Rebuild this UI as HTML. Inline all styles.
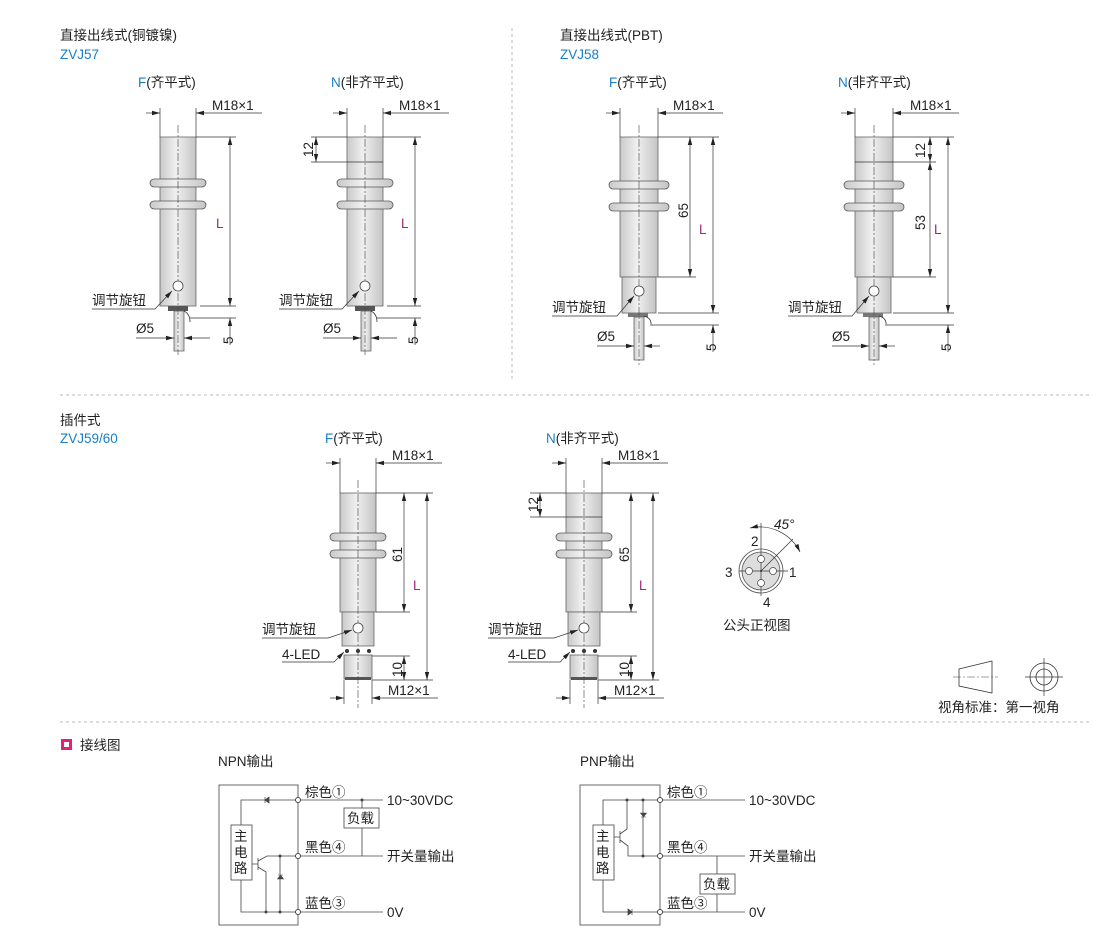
<!DOCTYPE html>
<html><head><meta charset="utf-8"><style>
html,body{margin:0;padding:0;background:#fff}
svg{display:block}
text{font-family:"Liberation Sans","Noto Sans CJK SC",sans-serif;fill:#222;font-size:13.5px}
.b{fill:#1a7ec8}.p{fill:#9b2a7a}
.s{stroke:#333;stroke-width:0.8;fill:none}
.c{stroke:#444;stroke-width:0.6;stroke-dasharray:8 2 2 2;fill:none}
.body{fill:url(#g);stroke:#666;stroke-width:0.8}
.ring{fill:url(#g);stroke:#555;stroke-width:0.8}
.dim{stroke:#333;stroke-width:0.7;fill:none}
.da{stroke:#333;stroke-width:0.7;fill:none;marker-end:url(#ar)}
.dd{stroke:#333;stroke-width:0.7;fill:none;marker-start:url(#ar);marker-end:url(#ar)}
.w{stroke:#444;stroke-width:0.8;fill:none}
.sep{stroke:#bbb;stroke-width:1;stroke-dasharray:3 3}
</style></head><body>
<svg width="1110" height="928" viewBox="0 0 1110 928" xmlns="http://www.w3.org/2000/svg">
<defs>
<linearGradient id="g" x1="0" x2="1" y1="0" y2="0"><stop offset="0" stop-color="#c9c9c9"/><stop offset="0.45" stop-color="#f0f0f0"/><stop offset="1" stop-color="#c4c4c4"/></linearGradient>
<marker id="ar" markerWidth="8" markerHeight="6" refX="8" refY="3" orient="auto-start-reverse" markerUnits="userSpaceOnUse"><path d="M0,0.8 L8,3 L0,5.2z" fill="#222"/></marker>
</defs>

<line class="sep" x1="512" y1="28" x2="512" y2="382"/>
<line class="sep" x1="60" y1="395" x2="1090" y2="395"/>
<line class="sep" x1="60" y1="722" x2="1090" y2="722"/>

<text x="60" y="40">直接出线式(铜镀镍)</text>
<text x="60" y="59" class="b">ZVJ57</text>
<text x="560" y="40">直接出线式(PBT)</text>
<text x="560" y="59" class="b">ZVJ58</text>
<text x="60" y="425">插件式</text>
<text x="60" y="443" class="b">ZVJ59/60</text>

<text x="138" y="87"><tspan class="b">F</tspan>(齐平式)</text>
<text x="331" y="87"><tspan class="b">N</tspan>(非齐平式)</text>
<text x="609" y="87"><tspan class="b">F</tspan>(齐平式)</text>
<text x="838" y="87"><tspan class="b">N</tspan>(非齐平式)</text>
<text x="325" y="443"><tspan class="b">F</tspan>(齐平式)</text>
<text x="546" y="443"><tspan class="b">N</tspan>(非齐平式)</text>

<!-- Sensor 1 -->
<g>
<rect class="body" x="160" y="137" width="36" height="169"/>
<rect class="ring" x="150" y="179" width="56" height="8" rx="4"/>
<rect class="ring" x="150" y="201" width="56" height="8" rx="4"/>
<rect x="168" y="306" width="20" height="5" fill="#555"/>
<rect class="body" x="174" y="311" width="10" height="40"/>
<path class="s" d="M184,311 Q190,314 190,322"/>
<line class="c" x1="178" y1="125" x2="178" y2="355"/>
<circle cx="178" cy="286" r="5" fill="#fff" stroke="#444" stroke-width="0.8"/>
<path class="dim" d="M92,309 H155 L172,291" marker-end="url(#ar)"/>
<text x="92" y="305">调节旋钮</text>
<line class="dim" x1="160" y1="108" x2="160" y2="137"/><line class="dim" x1="196" y1="108" x2="196" y2="137"/>
<line class="da" x1="146" y1="113" x2="160" y2="113"/><line class="da" x1="262" y1="113" x2="196" y2="113"/>
<text x="212" y="110">M18×1</text>
<line class="dim" x1="196" y1="137" x2="236" y2="137"/><line class="dim" x1="200" y1="306" x2="236" y2="306"/><line class="dim" x1="190" y1="318" x2="236" y2="318"/>
<line class="dd" x1="230" y1="137" x2="230" y2="306"/>
<line class="da" x1="230" y1="345" x2="230" y2="318"/>
<text class="p" x="216" y="228">L</text>
<text transform="translate(233,344) rotate(-90)">5</text>
<text x="136" y="333">Ø5</text>
<line class="da" x1="136" y1="338" x2="174" y2="338"/><line class="da" x1="210" y1="338" x2="184" y2="338"/>
</g>

<!-- Sensor 2 -->
<g>
<rect class="body" x="347" y="137" width="36" height="169"/>
<line class="s" x1="347" y1="162" x2="383" y2="162"/>
<rect class="ring" x="337" y="179" width="56" height="8" rx="4"/>
<rect class="ring" x="337" y="201" width="56" height="8" rx="4"/>
<rect x="355" y="306" width="20" height="5" fill="#555"/>
<rect class="body" x="361" y="311" width="10" height="40"/>
<path class="s" d="M371,311 Q377,314 377,322"/>
<line class="c" x1="365" y1="125" x2="365" y2="355"/>
<circle cx="365" cy="286" r="5" fill="#fff" stroke="#444" stroke-width="0.8"/>
<path class="dim" d="M279,309 H342 L359,291" marker-end="url(#ar)"/>
<text x="279" y="305">调节旋钮</text>
<line class="dim" x1="347" y1="108" x2="347" y2="137"/><line class="dim" x1="383" y1="108" x2="383" y2="137"/>
<line class="da" x1="333" y1="113" x2="347" y2="113"/><line class="da" x1="449" y1="113" x2="383" y2="113"/>
<text x="399" y="110">M18×1</text>
<line class="dim" x1="311" y1="137" x2="347" y2="137"/><line class="dim" x1="311" y1="162" x2="347" y2="162"/>
<line class="dd" x1="316" y1="137" x2="316" y2="162"/>
<text transform="translate(313,157) rotate(-90)">12</text>
<line class="dim" x1="383" y1="137" x2="421" y2="137"/><line class="dim" x1="387" y1="306" x2="421" y2="306"/><line class="dim" x1="377" y1="318" x2="421" y2="318"/>
<line class="dd" x1="415" y1="137" x2="415" y2="306"/>
<line class="da" x1="415" y1="345" x2="415" y2="318"/>
<text class="p" x="401" y="228">L</text>
<text transform="translate(418,344) rotate(-90)">5</text>
<text x="323" y="333">Ø5</text>
<line class="da" x1="323" y1="338" x2="361" y2="338"/><line class="da" x1="397" y1="338" x2="371" y2="338"/>
</g>

<!-- Sensor 3 -->
<g>
<rect class="body" x="620" y="137" width="38" height="140"/>
<rect class="body" x="622" y="277" width="34" height="36"/>
<rect class="ring" x="609" y="181" width="60" height="8" rx="4"/>
<rect class="ring" x="609" y="203" width="60" height="8" rx="4"/>
<rect x="628" y="313" width="20" height="4" fill="#777"/>
<rect class="body" x="634" y="317" width="10" height="43"/>
<path class="s" d="M644,316 Q652,318 651,326"/>
<line class="c" x1="639" y1="125" x2="639" y2="365"/>
<circle cx="639" cy="291" r="5" fill="#fff" stroke="#444" stroke-width="0.8"/>
<path class="dim" d="M552,316 H617 L634,296" marker-end="url(#ar)"/>
<text x="552" y="312">调节旋钮</text>
<line class="dim" x1="620" y1="108" x2="620" y2="137"/><line class="dim" x1="658" y1="108" x2="658" y2="137"/>
<line class="da" x1="606" y1="113" x2="620" y2="113"/><line class="da" x1="723" y1="113" x2="658" y2="113"/>
<text x="673" y="110">M18×1</text>
<line class="dim" x1="658" y1="137" x2="719" y2="137"/><line class="dim" x1="658" y1="277" x2="696" y2="277"/>
<line class="dim" x1="658" y1="313" x2="719" y2="313"/><line class="dim" x1="652" y1="325" x2="719" y2="325"/>
<line class="dd" x1="690" y1="137" x2="690" y2="277"/>
<line class="dd" x1="713" y1="137" x2="713" y2="313"/>
<line class="da" x1="713" y1="352" x2="713" y2="325"/>
<text transform="translate(688,218) rotate(-90)">65</text>
<text class="p" x="699" y="234">L</text>
<text transform="translate(716,351) rotate(-90)">5</text>
<text x="597" y="341">Ø5</text>
<line class="da" x1="597" y1="346" x2="634" y2="346"/><line class="da" x1="660" y1="346" x2="644" y2="346"/>
</g>

<!-- Sensor 4 -->
<g>
<rect class="body" x="855" y="137" width="38" height="140"/>
<line class="s" x1="855" y1="162" x2="893" y2="162"/>
<rect class="body" x="857" y="277" width="34" height="36"/>
<rect class="ring" x="844" y="181" width="60" height="8" rx="4"/>
<rect class="ring" x="844" y="203" width="60" height="8" rx="4"/>
<rect x="863" y="313" width="20" height="4" fill="#777"/>
<rect class="body" x="869" y="317" width="10" height="43"/>
<path class="s" d="M879,316 Q887,318 886,326"/>
<line class="c" x1="874" y1="125" x2="874" y2="365"/>
<circle cx="874" cy="291" r="5" fill="#fff" stroke="#444" stroke-width="0.8"/>
<path class="dim" d="M788,316 H852 L869,296" marker-end="url(#ar)"/>
<text x="788" y="312">调节旋钮</text>
<line class="dim" x1="855" y1="108" x2="855" y2="137"/><line class="dim" x1="893" y1="108" x2="893" y2="137"/>
<line class="da" x1="841" y1="113" x2="855" y2="113"/><line class="da" x1="959" y1="113" x2="893" y2="113"/>
<text x="910" y="110">M18×1</text>
<line class="dim" x1="893" y1="137" x2="954" y2="137"/><line class="dim" x1="893" y1="162" x2="936" y2="162"/><line class="dim" x1="893" y1="277" x2="936" y2="277"/>
<line class="dim" x1="893" y1="313" x2="954" y2="313"/><line class="dim" x1="887" y1="325" x2="954" y2="325"/>
<line class="dd" x1="930" y1="137" x2="930" y2="162"/>
<line class="dd" x1="930" y1="162" x2="930" y2="277"/>
<line class="dd" x1="948" y1="137" x2="948" y2="313"/>
<line class="da" x1="948" y1="352" x2="948" y2="325"/>
<text transform="translate(925,158) rotate(-90)">12</text>
<text transform="translate(925,230) rotate(-90)">53</text>
<text class="p" x="934" y="234">L</text>
<text transform="translate(951,351) rotate(-90)">5</text>
<text x="832" y="341">Ø5</text>
<line class="da" x1="832" y1="346" x2="869" y2="346"/><line class="da" x1="895" y1="346" x2="879" y2="346"/>
</g>

<!-- Sensor 5 -->
<g>
<rect class="body" x="340" y="493" width="36" height="119"/>
<rect class="body" x="342" y="612" width="32" height="34"/>
<rect class="ring" x="330" y="533" width="56" height="8" rx="4"/>
<rect class="ring" x="330" y="550" width="56" height="8" rx="4"/>
<circle cx="347" cy="651" r="2" fill="#333"/><circle cx="358" cy="651" r="2" fill="#333"/><circle cx="369" cy="651" r="2" fill="#333"/>
<rect class="body" x="344" y="655" width="28" height="24"/>
<rect x="345" y="677" width="26" height="3" fill="#555"/>
<line class="c" x1="358" y1="480" x2="358" y2="708"/>
<circle cx="358" cy="628" r="5" fill="#fff" stroke="#444" stroke-width="0.8"/>
<path class="dim" d="M262,638 H328 L352,630" marker-end="url(#ar)"/>
<text x="262" y="634">调节旋钮</text>
<path class="dim" d="M282,662 H334 L344,652" marker-end="url(#ar)"/>
<text x="282" y="659">4-LED</text>
<line class="dim" x1="340" y1="458" x2="340" y2="493"/><line class="dim" x1="376" y1="458" x2="376" y2="493"/>
<line class="da" x1="326" y1="463" x2="340" y2="463"/><line class="da" x1="442" y1="463" x2="376" y2="463"/>
<text x="392" y="460">M18×1</text>
<line class="dim" x1="376" y1="493" x2="433" y2="493"/><line class="dim" x1="376" y1="612" x2="410" y2="612"/>
<line class="dim" x1="372" y1="656" x2="410" y2="656"/><line class="dim" x1="372" y1="680" x2="433" y2="680"/>
<line class="dd" x1="404" y1="493" x2="404" y2="612"/>
<line class="dd" x1="427" y1="493" x2="427" y2="680"/>
<line class="dd" x1="404" y1="656" x2="404" y2="680"/>
<text transform="translate(402,562) rotate(-90)">61</text>
<text class="p" x="413" y="590">L</text>
<text transform="translate(402,677) rotate(-90)">10</text>
<line class="dim" x1="344" y1="680" x2="344" y2="704"/><line class="dim" x1="372" y1="680" x2="372" y2="704"/>
<line class="da" x1="330" y1="698" x2="344" y2="698"/><line class="da" x1="438" y1="698" x2="372" y2="698"/>
<text x="388" y="695">M12×1</text>
</g>

<!-- Sensor 6 -->
<g>
<rect class="body" x="566" y="493" width="36" height="119"/>
<line class="s" x1="566" y1="517" x2="602" y2="517"/>
<rect class="body" x="568" y="612" width="32" height="34"/>
<rect class="ring" x="556" y="533" width="56" height="8" rx="4"/>
<rect class="ring" x="556" y="550" width="56" height="8" rx="4"/>
<circle cx="573" cy="651" r="2" fill="#333"/><circle cx="584" cy="651" r="2" fill="#333"/><circle cx="595" cy="651" r="2" fill="#333"/>
<rect class="body" x="570" y="655" width="28" height="24"/>
<rect x="571" y="677" width="26" height="3" fill="#555"/>
<line class="c" x1="584" y1="480" x2="584" y2="708"/>
<circle cx="584" cy="628" r="5" fill="#fff" stroke="#444" stroke-width="0.8"/>
<path class="dim" d="M488,638 H554 L578,630" marker-end="url(#ar)"/>
<text x="488" y="634">调节旋钮</text>
<path class="dim" d="M508,662 H560 L570,652" marker-end="url(#ar)"/>
<text x="508" y="659">4-LED</text>
<line class="dim" x1="566" y1="458" x2="566" y2="493"/><line class="dim" x1="602" y1="458" x2="602" y2="493"/>
<line class="da" x1="552" y1="463" x2="566" y2="463"/><line class="da" x1="668" y1="463" x2="602" y2="463"/>
<text x="618" y="460">M18×1</text>
<line class="dim" x1="530" y1="493" x2="566" y2="493"/><line class="dim" x1="530" y1="517" x2="566" y2="517"/>
<line class="dd" x1="540" y1="493" x2="540" y2="517"/>
<text transform="translate(538,512) rotate(-90)">12</text>
<line class="dim" x1="602" y1="493" x2="659" y2="493"/><line class="dim" x1="602" y1="612" x2="637" y2="612"/>
<line class="dim" x1="598" y1="656" x2="637" y2="656"/><line class="dim" x1="598" y1="680" x2="659" y2="680"/>
<line class="dd" x1="631" y1="493" x2="631" y2="612"/>
<line class="dd" x1="653" y1="493" x2="653" y2="680"/>
<line class="dd" x1="631" y1="656" x2="631" y2="680"/>
<text transform="translate(629,562) rotate(-90)">65</text>
<text class="p" x="639" y="590">L</text>
<text transform="translate(629,677) rotate(-90)">10</text>
<line class="dim" x1="570" y1="680" x2="570" y2="704"/><line class="dim" x1="598" y1="680" x2="598" y2="704"/>
<line class="da" x1="556" y1="698" x2="570" y2="698"/><line class="da" x1="664" y1="698" x2="598" y2="698"/>
<text x="614" y="695">M12×1</text>
</g>

<!-- connector front view -->
<g>
<circle cx="761" cy="571" r="22" fill="#fff" stroke="#555" stroke-width="0.8"/>
<circle cx="761" cy="571" r="19" fill="#ddd" stroke="#555" stroke-width="0.8"/>
<line class="dim" x1="761" y1="523" x2="761" y2="596"/><line class="dim" x1="739" y1="571" x2="788" y2="571"/>
<circle cx="761" cy="559" r="3.5" fill="#fff" stroke="#444" stroke-width="0.7"/>
<circle cx="761" cy="583" r="3.5" fill="#fff" stroke="#444" stroke-width="0.7"/>
<circle cx="749" cy="571" r="3.5" fill="#fff" stroke="#444" stroke-width="0.7"/>
<circle cx="773" cy="571" r="3.5" fill="#fff" stroke="#444" stroke-width="0.7"/>
<circle cx="761" cy="571" r="1" fill="#333"/>
<line class="dim" x1="761" y1="571" x2="793" y2="539"/>
<path class="dim" d="M750,528 A45,45 0 0 1 800,552" marker-start="url(#ar)" marker-end="url(#ar)"/>
<text x="774" y="529" font-style="italic" font-size="12">45°</text>
<text x="751" y="546">2</text><text x="725" y="577">3</text><text x="789" y="577">1</text><text x="763" y="607">4</text>
<text x="723" y="630">公头正视图</text>
</g>

<!-- projection symbol -->
<g>
<path class="s" d="M959,669 L992,661 V693 L959,686 Z"/>
<line class="c" x1="953" y1="677" x2="998" y2="677"/>
<circle class="s" cx="1044" cy="677" r="14"/><circle class="s" cx="1044" cy="677" r="8"/>
<line class="dim" x1="1044" y1="658" x2="1044" y2="696"/><line class="dim" x1="1025" y1="677" x2="1063" y2="677"/>
<text x="938" y="712">视角标准：第一视角</text>
</g>

<rect x="61" y="739" width="11" height="11" fill="#e5207a"/>
<rect x="64" y="742" width="5" height="5" fill="#fff"/>
<text x="80" y="750">接线图</text>
<text x="218" y="766">NPN输出</text>
<text x="580" y="766">PNP输出</text>

<!-- NPN -->
<g>
<rect class="w" x="219" y="785" width="79" height="140"/>
<line class="w" x1="298" y1="800" x2="383" y2="800"/>
<line class="w" x1="298" y1="856" x2="383" y2="856"/>
<line class="w" x1="298" y1="912" x2="383" y2="912"/>
<path class="w" d="M298,800 H241 V825 M241,880 V912 H298"/>
<path d="M265,797 v6 M265,800 l4,-3 v6z" stroke="#444" stroke-width="0.7" fill="#444"/>
<rect x="231" y="825" width="21" height="55" fill="#fff" stroke="#444" stroke-width="0.8"/>
<text x="234" y="841" font-size="14">主</text><text x="234" y="857" font-size="14">电</text><text x="234" y="873" font-size="14">路</text>
<path class="w" d="M252,864 H258 M258,858 V870 M258,861 L267,856 H298 M258,867 L266,872 V912 M280,856 V912"/>
<path d="M278,875 h5 M280.5,875 l-3,4 h6z" stroke="#444" stroke-width="0.6" fill="#444"/>
<circle cx="298" cy="800" r="2.5" fill="#fff" stroke="#444"/><circle cx="298" cy="856" r="2.5" fill="#fff" stroke="#444"/><circle cx="298" cy="912" r="2.5" fill="#fff" stroke="#444"/>
<circle cx="280" cy="856" r="1.5" fill="#444"/><circle cx="280" cy="912" r="1.5" fill="#444"/><circle cx="266" cy="912" r="1.5" fill="#444"/>
<circle cx="362" cy="800" r="1.5" fill="#444"/>
<line class="w" x1="362" y1="800" x2="362" y2="856"/>
<rect x="344" y="808" width="35" height="20" fill="#fff" stroke="#444" stroke-width="0.8"/>
<text x="347" y="823">负载</text>
<text x="305" y="797">棕色①</text><text x="305" y="852">黑色④</text><text x="305" y="908">蓝色③</text>
<text x="387" y="805">10~30VDC</text><text x="387" y="861">开关量输出</text><text x="387" y="917">0V</text>
</g>

<!-- PNP -->
<g>
<rect class="w" x="580" y="785" width="80" height="140"/>
<line class="w" x1="660" y1="800" x2="745" y2="800"/>
<line class="w" x1="660" y1="856" x2="745" y2="856"/>
<line class="w" x1="660" y1="912" x2="745" y2="912"/>
<path class="w" d="M660,800 H603 V825 M603,880 V912 H660"/>
<path d="M632,909 v6 M632,912 l-4,-3 v6z" stroke="#444" stroke-width="0.7" fill="#444"/>
<rect x="593" y="825" width="21" height="55" fill="#fff" stroke="#444" stroke-width="0.8"/>
<text x="596" y="841" font-size="14">主</text><text x="596" y="857" font-size="14">电</text><text x="596" y="873" font-size="14">路</text>
<path class="w" d="M614,837 H620 M620,831 V843 M620,834 L627,829 V800 M620,840 L628,846 V856 H660 M643,800 V856"/>
<path d="M641,817 h5 M643.5,817 l-3,-4 h6z" stroke="#444" stroke-width="0.6" fill="#444"/>
<circle cx="660" cy="800" r="2.5" fill="#fff" stroke="#444"/><circle cx="660" cy="856" r="2.5" fill="#fff" stroke="#444"/><circle cx="660" cy="912" r="2.5" fill="#fff" stroke="#444"/>
<circle cx="627" cy="800" r="1.5" fill="#444"/><circle cx="643" cy="800" r="1.5" fill="#444"/><circle cx="643" cy="856" r="1.5" fill="#444"/>
<line class="w" x1="717" y1="856" x2="717" y2="912"/>
<rect x="700" y="874" width="35" height="20" fill="#fff" stroke="#444" stroke-width="0.8"/>
<text x="703" y="889">负载</text>
<text x="667" y="797">棕色①</text><text x="667" y="852">黑色④</text><text x="667" y="908">蓝色③</text>
<text x="749" y="805">10~30VDC</text><text x="749" y="861">开关量输出</text><text x="749" y="917">0V</text>
</g>
</svg>
</body></html>
